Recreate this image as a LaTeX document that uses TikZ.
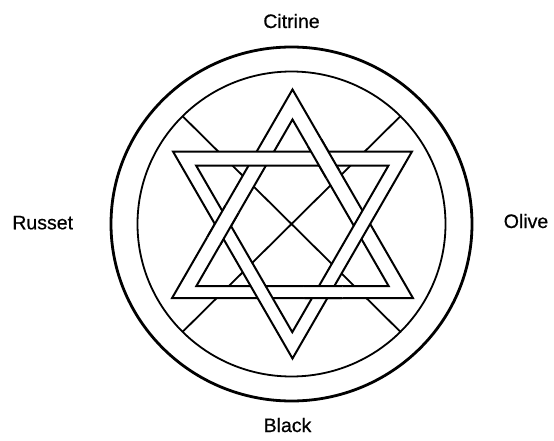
\documentclass[tikz,border=0pt]{standalone}
\usepackage{fontspec}
\setmainfont{Liberation Sans}
\newfontfamily\lblfont[FakeBold=0.6]{Liberation Sans}
\begin{document}
\begin{tikzpicture}[x=1pt,y=-1pt,line join=miter,
  ring/.style={draw=black,line width=1.8pt},
  outerring/.style={draw=black,line width=2.8pt},
  crossline/.style={draw=black,line width=1.8pt},
  band/.style={draw=black,fill=white,line width=2pt,even odd rule},
  lbl/.style={anchor=base,font=\lblfont\fontsize{19.5pt}{22pt}\selectfont,inner sep=0pt}]
\useasboundingbox (0,0) rectangle (554,441);
\fill[white] (0,0) rectangle (554,441);
% centre
\coordinate (c) at (291.5,224);
% rings
\draw[outerring] (c) ellipse [x radius=180.5pt, y radius=177pt];
\draw[ring] (c) ellipse [x radius=154pt, y radius=152.5pt];
% X lines
\coordinate (x1) at (182.6,116.2);
\coordinate (x2) at (400.4,331.8);
\coordinate (x3) at (400.4,116.2);
\coordinate (x4) at (182.6,331.8);
\draw[crossline] (x1) -- (x2);
\draw[crossline] (x3) -- (x4);
% triangle points
\coordinate (uoA) at (292.5,89.5);
\coordinate (uoB) at (172.1,298);
\coordinate (uoC) at (412.9,298);
\coordinate (uiA) at (292.5,119.5);
\coordinate (uiB) at (196.4,286);
\coordinate (uiC) at (388.6,286);
\coordinate (doA) at (292.5,358.5);
\coordinate (doB) at (173,151.5);
\coordinate (doC) at (412,151.5);
\coordinate (diA) at (292.3,332.2);
\coordinate (diB) at (196.2,165.7);
\coordinate (diC) at (388.4,165.7);
\path[band] (uoA) -- (uoB) -- (uoC) -- cycle (uiA) -- (uiB) -- (uiC) -- cycle;
\path[band] (doA) -- (doB) -- (doC) -- cycle (diA) -- (diB) -- (diC) -- cycle;
% crossings where the upward triangle lies on top
\coordinate (kTR) at (323.7,158.6);
\coordinate (kBR) at (323.2,292);
\coordinate (kL) at (222.9,225);
\foreach \k in {kTR,kBR,kL}{
  \begin{scope}
    \clip (\k) circle [radius=20pt];
    \path[band] (uoA) -- (uoB) -- (uoC) -- cycle (uiA) -- (uiB) -- (uiC) -- cycle;
  \end{scope}
}
% labels
\node[lbl] (citrine) at (291.5,28) {Citrine};
\node[lbl] (black) at (287.5,432) {Black};
\node[lbl] (russet) at (42.7,229.3) {Russet};
\node[lbl] (olive) at (526,228) {Olive};
\end{tikzpicture}
\end{document}
